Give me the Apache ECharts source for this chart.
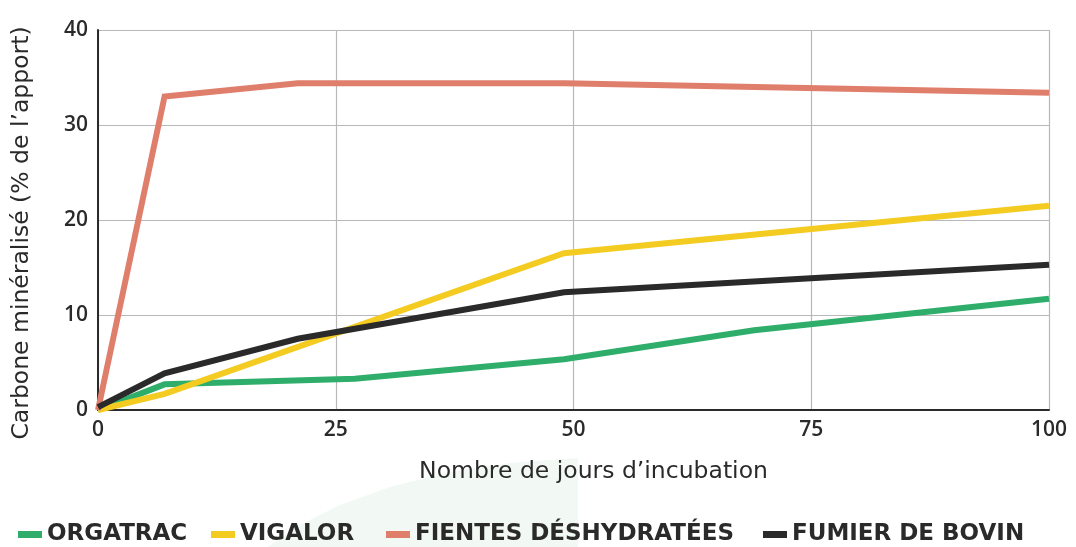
<!DOCTYPE html>
<html><head><meta charset="utf-8">
<script src="https://cdn.jsdelivr.net/npm/echarts@6/dist/echarts.min.js"></script>
<style>html,body{margin:0;padding:0;background:#fff}#c{width:1076px;height:547px}</style>
</head><body><div id="c"></div>
<script>
const seriesNames = ['ORGATRAC', 'VIGALOR', 'FIENTES DÉSHYDRATÉES', 'FUMIER DE BOVIN'];
const colors = ['#2eae6a', '#f4cb21', '#e07e6c', '#2a2a2a'];
const orgatrac = [[0, 0], [7, 2.7], [27, 3.3], [49, 5.35], [69, 8.4], [100, 11.7]];
const vigalor = [[0, 0], [7, 1.7], [49, 16.5], [100, 21.5]];
const fientes = [[0, 0], [7, 33], [21, 34.4], [49, 34.4], [100, 33.4]];
const fumier = [[0, 0.3], [7, 3.85], [21, 7.5], [49, 12.4], [100, 15.3]];
const xTicks = [0, 25, 50, 75, 100];
const yTicks = [0, 10, 20, 30, 40];
const allData = [orgatrac, vigalor, fientes, fumier];
const legendLeft = [13, 206, 381, 758];

const font = "'DejaVu Sans', sans-serif";
const tickFont = "'Open Sans', sans-serif";
const chart = echarts.init(document.getElementById('c'), null, {renderer: 'canvas'});
chart.setOption({
  animation: false,
  backgroundColor: '#ffffff',
  graphic: [{
    type: 'polygon', z: -10, silent: true,
    shape: {points: [[268, 547], [300, 525], [340, 505], [390, 487], [450, 472], [510, 463], [578, 458], [578, 547]]},
    style: {fill: '#f2f8f3'}
  }],
  grid: {left: 98, right: 27, top: 30, bottom: 137, containLabel: false},
  legend: seriesNames.map((n, i) => ({
    data: [n],
    left: legendLeft[i], top: 518,
    icon: 'rect', itemWidth: 24, itemHeight: 7,
    textStyle: {fontFamily: font, fontSize: 23, fontWeight: 'bold', color: '#2a2a2a'}
  })),
  xAxis: {
    type: 'value', min: xTicks[0], max: xTicks[xTicks.length - 1], interval: 25,
    name: 'Nombre de jours d’incubation', nameLocation: 'middle', nameGap: 50,
    nameTextStyle: {fontFamily: font, fontSize: 23.5, color: '#2a2a2a', padding: [0, 0, 0, 40]},
    axisLine: {show: true, lineStyle: {color: '#2a2a2a', width: 2}},
    axisTick: {show: false},
    axisLabel: {fontFamily: tickFont, fontSize: 21, fontWeight: 600, color: '#2a2a2a', margin: 10},
    splitLine: {show: true, lineStyle: {color: '#b8b8b8', width: 1.2}}
  },
  yAxis: {
    type: 'value', min: yTicks[0], max: yTicks[yTicks.length - 1], interval: 10,
    name: 'Carbone minéralisé (% de l’apport)', nameLocation: 'middle', nameGap: 64,
    nameTextStyle: {fontFamily: font, fontSize: 23.5, color: '#2a2a2a', padding: [0, 26, 0, 0]},
    axisLine: {show: true, lineStyle: {color: '#2a2a2a', width: 2}},
    axisTick: {show: false},
    axisLabel: {fontFamily: tickFont, fontSize: 21, fontWeight: 600, color: '#2a2a2a', margin: 10},
    splitLine: {show: true, lineStyle: {color: '#b8b8b8', width: 1.2}}
  },
  series: seriesNames.map((n, i) => ({
    name: n, type: 'line', data: allData[i],
    showSymbol: false, symbol: 'none',
    itemStyle: {color: colors[i]},
    lineStyle: {color: colors[i], width: 6, cap: 'butt', join: 'miter'}
  }))
});
</script></body></html>
